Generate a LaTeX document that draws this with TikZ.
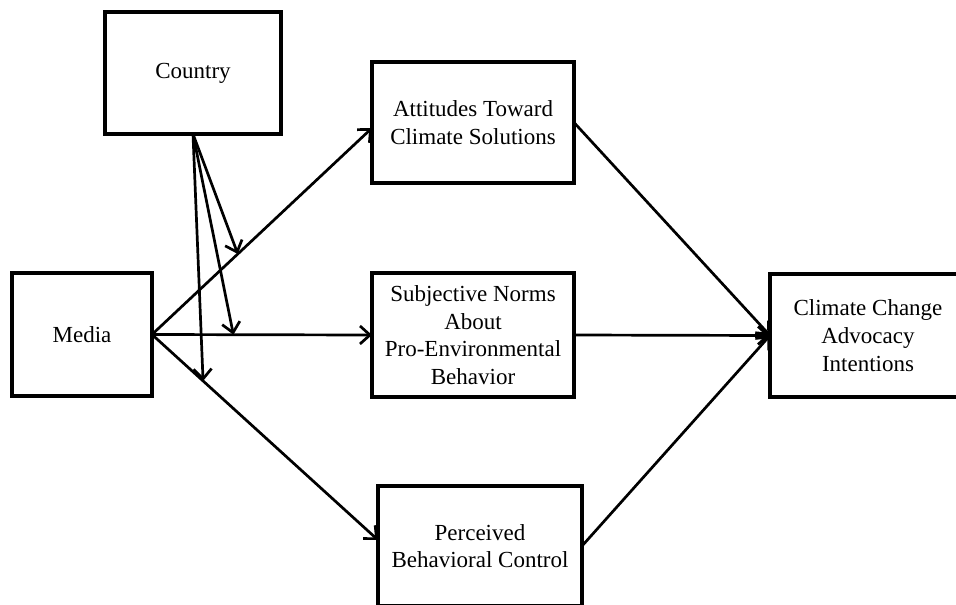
\documentclass[tikz,border=0pt]{standalone}
\usepackage{fontspec}
\setmainfont{Liberation Serif}
\usetikzlibrary{arrows.meta,calc}
\begin{document}
\begin{tikzpicture}[x=1pt,y=-1pt,
  box/.style={draw,line width=3.2pt,inner sep=0pt,outer sep=0pt,align=center,
    font=\fontsize{23}{27.7}\selectfont},
  conn/.style={line width=2.7pt,-{Straight Barb[length=10pt,width=18pt]}}]
\useasboundingbox (0,0) rectangle (956,605);
\clip (0,0) rectangle (956,605);
\node[box,minimum width=176pt,minimum height=122pt] (country) at (193,73) {Country};
\node[box,minimum width=140pt,minimum height=123pt] (media) at (82,334.5) {Media};
\node[box,minimum width=202pt,minimum height=121pt] (att) at (473,122.5) {Attitudes Toward\\Climate Solutions};
\node[box,minimum width=202pt,minimum height=124pt] (subj) at (473,335) {Subjective Norms\\About\\Pro-Environmental\\Behavior};
\node[box,minimum width=204pt,minimum height=120pt] (perc) at (480,546) {Perceived\\Behavioral Control};
\node[box,minimum width=196pt,minimum height=123pt] (clim) at (868,335.5) {Climate Change\\Advocacy\\Intentions};
\coordinate (attin) at ($(att.west)+(0,5.5)$);
\coordinate (percin) at ($(perc.west)+(0,-6)$);
% media paths
\draw[conn] (media.east) -- coordinate[pos=0.39] (m1) (attin);
\draw[conn] (media.east) -- coordinate[pos=0.37] (m2) (subj.west);
\draw[conn] (media.east) -- coordinate[pos=0.226] (m3) (percin);
% moderation
\draw[conn] (country.south) -- (m1);
\draw[conn] (country.south) -- (m2);
\draw[conn] (country.south) -- (m3);
% to outcome
\draw[conn] (att.east) -- (clim.west);
\draw[conn] (subj.east) -- (clim.west);
\draw[conn] (perc.east) -- (clim.west);
\end{tikzpicture}
\end{document}
